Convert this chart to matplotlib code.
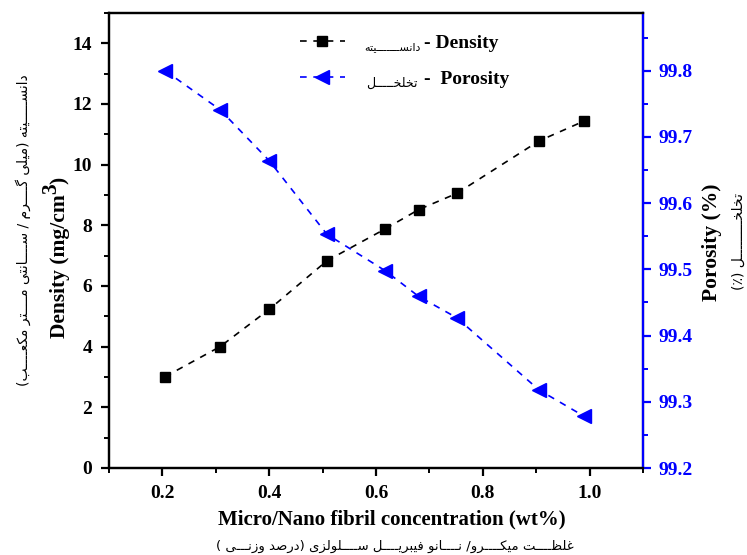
import matplotlib
matplotlib.use("Agg")
import matplotlib.pyplot as plt
from matplotlib.ticker import MultipleLocator, FormatStrFormatter

# values
conc = [0.205, 0.308, 0.400, 0.508, 0.617, 0.680, 0.751, 0.905, 0.990]
density = [3.01, 4.00, 5.23, 6.83, 7.88, 8.52, 9.05, 10.78, 11.44]
porosity = [99.800, 99.741, 99.664, 99.553, 99.498, 99.459, 99.427, 99.318, 99.278]

# small hand-made arabic shaper: matplotlib draws glyphs left to right and unjoined,
# so pick the joined presentation forms and lay words out right to left ourselves
FORMS = {
    "ا": (0xFE8D, 0xFE8E), "د": (0xFEA9, 0xFEAA), "ر": (0xFEAD, 0xFEAE),
    "ز": (0xFEAF, 0xFEB0), "و": (0xFEED, 0xFEEE),
    "ب": (0xFE8F, 0xFE90, 0xFE91, 0xFE92), "ت": (0xFE95, 0xFE96, 0xFE97, 0xFE98),
    "خ": (0xFEA5, 0xFEA6, 0xFEA7, 0xFEA8), "س": (0xFEB1, 0xFEB2, 0xFEB3, 0xFEB4),
    "ص": (0xFEB9, 0xFEBA, 0xFEBB, 0xFEBC), "ظ": (0xFEC5, 0xFEC6, 0xFEC7, 0xFEC8),
    "ع": (0xFEC9, 0xFECA, 0xFECB, 0xFECC), "غ": (0xFECD, 0xFECE, 0xFECF, 0xFED0),
    "ف": (0xFED1, 0xFED2, 0xFED3, 0xFED4), "ل": (0xFEDD, 0xFEDE, 0xFEDF, 0xFEE0),
    "م": (0xFEE1, 0xFEE2, 0xFEE3, 0xFEE4), "ن": (0xFEE5, 0xFEE6, 0xFEE7, 0xFEE8),
    "ه": (0xFEE9, 0xFEEA, 0xFEEB, 0xFEEC), "ی": (0xFBFC, 0xFBFD, 0xFBFE, 0xFBFF),
    "ک": (0xFB8E, 0xFB8F, 0xFB90, 0xFB91), "گ": (0xFB92, 0xFB93, 0xFB94, 0xFB95),
    "ـ": (0x640, 0x640, 0x640, 0x640),
}
MIRROR = {"(": ")", ")": "("}


def shape(word):
    out = []
    for i, c in enumerate(word):
        f = FORMS[c]
        prev = word[i - 1] if i > 0 else None
        nxt = word[i + 1] if i + 1 < len(word) else None
        jp = prev is not None and len(FORMS.get(prev, ())) == 4
        jn = len(f) == 4 and nxt in FORMS
        if jp and jn:
            g = f[3]
        elif jp:
            g = f[1]
        elif jn:
            g = f[2]
        else:
            g = f[0]
        out.append(chr(g))
    return "".join(reversed(out))


def rtl(text):
    # visual order of a right-to-left line
    out, run = [], ""
    for c in text:
        if c in FORMS:
            run += c
        else:
            if run:
                out.append(shape(run))
                run = ""
            out.append(MIRROR.get(c, c))
    if run:
        out.append(shape(run))
    return "".join(reversed(out))


fa_left = rtl("دانســـــیته (میلی گــــرم / ســــانتی مــــتر مکعــــب)")
fa_right = rtl("تخلخـــــــــل (٪)")
fa_bottom = rtl("غلظــــت میکــــرو/ نــــانو فیبریــــل ســــلولزی (درصد وزنـــی )")
fa_leg1 = rtl("دانســـــــیته")
fa_leg2 = rtl("تخلخـــــل")

plt.rcParams["font.family"] = "Liberation Serif"
plt.rcParams["font.weight"] = "bold"

W, H = 747, 555
fig = plt.figure(figsize=(W / 100, H / 100), dpi=100)
ax = fig.add_axes([109 / W, 87 / H, 534 / W, 455 / H])
ax2 = ax.twinx()

l1, = ax.plot(conc, density, ls=(0, (4, 4)), color="k", lw=1.2,
              marker="s", ms=6.5)
l2, = ax2.plot(conc, porosity, ls=(0, (4, 4)), color="#0000ff", lw=1.2,
               marker="<", ms=9.5)

ax.set_xlim(0.1, 1.1)
ax.set_ylim(0, 15)
ax2.set_ylim(99.2, 99.887)

ax.xaxis.set_major_locator(MultipleLocator(0.2))
ax.xaxis.set_minor_locator(MultipleLocator(0.1))
ax.xaxis.set_major_formatter(FormatStrFormatter("%.1f"))
ax.yaxis.set_major_locator(MultipleLocator(2))
ax.yaxis.set_minor_locator(MultipleLocator(1))
ax2.yaxis.set_major_locator(MultipleLocator(0.1))
ax2.yaxis.set_minor_locator(MultipleLocator(0.05))
ax2.yaxis.set_major_formatter(FormatStrFormatter("%.1f"))

for a in (ax, ax2):
    for s in a.spines.values():
        s.set_linewidth(1.6)
ax2.spines["right"].set_color("#0000ff")

ax.tick_params(which="major", direction="out", length=6, width=1.6, labelsize=14, pad=6)
ax.tick_params(which="minor", direction="out", length=3.5, width=1.4)
ax.tick_params(top=False, right=False, which="both")
ax2.tick_params(which="major", direction="out", length=6, width=1.6, labelsize=14,
                colors="#0000ff", pad=5)
ax2.tick_params(which="minor", direction="out", length=3.5, width=1.4, colors="#0000ff")

ax.legend([l1, l2], ["- Density", "-  Porosity"], loc="upper left",
          bbox_to_anchor=(300 / W, 1 - 34 / H), bbox_transform=fig.transFigure,
          frameon=False, fontsize=14, handlelength=2.3, handletextpad=4.1,
          labelspacing=0.97, borderpad=0, borderaxespad=0)
fig.text(392 / W, 1 - 47 / H, fa_leg1, ha="center", va="center",
         fontsize=8, family="DejaVu Sans", weight="normal")
fig.text(392 / W, 1 - 83 / H, fa_leg2, ha="center", va="center",
         fontsize=9, family="DejaVu Sans", weight="normal")

# axis titles
fig.text(392 / W, 1 - 519 / H, "Micro/Nano fibril concentration (wt%)",
         ha="center", va="center", fontsize=15)
fig.text(395 / W, 1 - 546 / H, fa_bottom, ha="center", va="center",
         fontsize=9.5, family="DejaVu Sans", weight="normal")

# Density (mg/cm^3) with a full-size raised 3, written bottom to top
renderer = fig.canvas.get_renderer()
base_x, start_y = 65, 338
t1 = fig.text(base_x / W, 1 - start_y / H, "Density (mg/cm", rotation=90,
              rotation_mode="anchor", ha="left", va="baseline", fontsize=15.5)
end_y = start_y - t1.get_window_extent(renderer).height
t3 = fig.text((base_x - 9) / W, 1 - end_y / H, "3", rotation=90,
              rotation_mode="anchor", ha="left", va="baseline", fontsize=15.5)
end_y -= t3.get_window_extent(renderer).height
fig.text(base_x / W, 1 - end_y / H, ")", rotation=90,
         rotation_mode="anchor", ha="left", va="baseline", fontsize=15.5)

fig.text(23 / W, 1 - 230 / H, fa_left, rotation=90, ha="center", va="center",
         fontsize=10, family="DejaVu Sans", weight="normal")
fig.text(712 / W, 1 - 242 / H, "Porosity (%)", rotation=90,
         ha="center", va="center", fontsize=15.5)
fig.text(739 / W, 1 - 242 / H, fa_right, rotation=90, ha="center", va="center",
         fontsize=10, family="DejaVu Sans", weight="normal")

fig.savefig("out.png", dpi=100)
